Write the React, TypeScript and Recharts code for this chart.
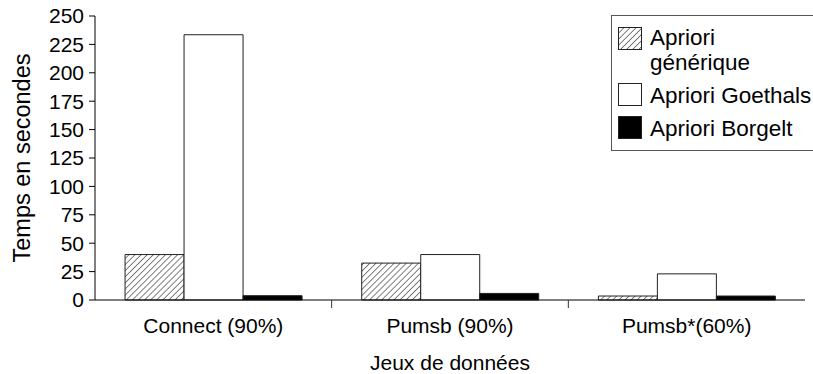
import { Bar, BarChart, XAxis, YAxis } from "recharts"

const categories = ["Connect (90%)", "Pumsb (90%)", "Pumsb*(60%)"]
const aprioriGenerique = [40, 32.5, 3.5]
const aprioriGoethals = [233.5, 40, 23]
const aprioriBorgelt = [3.8, 5.8, 3.5]
const yTicks = [0, 25, 50, 75, 100, 125, 150, 175, 200, 225, 250]
const legendNames = ["Apriori générique", "Apriori Goethals", "Apriori Borgelt"]

const data = categories.map((name, i) => ({
  name,
  generique: aprioriGenerique[i],
  goethals: aprioriGoethals[i],
  borgelt: aprioriBorgelt[i],
}))

const FONT = "'Liberation Sans', Arial, sans-serif"
const TICK_SIZE = 6
const TICK_MARGIN = 12

// category label, plus a small tick at the right edge of each band (except the last)
function CategoryTick(props: any) {
  const { x, y, payload, index } = props
  const axisY = y - TICK_SIZE - TICK_MARGIN
  const edge = x + (payload.offset || 0)
  return (
    <g>
      <text x={x} y={y} dy="0.71em" textAnchor="middle" fill="#000" fontSize={21} fontFamily={FONT}>
        {payload.value}
      </text>
      {index < categories.length - 1 && (
        <line x1={edge} x2={edge} y1={axisY} y2={axisY + 8} stroke="#333" />
      )}
    </g>
  )
}

function Swatch({ kind }: { kind: string }) {
  return (
    <svg width={24} height={23} style={{ display: "block", flex: "none" }}>
      <defs>
        <pattern id="hatchLegend" width={4.3} height={4.3} patternUnits="userSpaceOnUse" patternTransform="rotate(45)">
          <line x1={0} y1={0} x2={0} y2={4.3} stroke="#000" strokeWidth={1} />
        </pattern>
      </defs>
      <rect
        x={0.5}
        y={0.5}
        width={23}
        height={22}
        fill={kind === "hatch" ? "url(#hatchLegend)" : kind === "black" ? "#000" : "#fff"}
        stroke="#222"
      />
    </svg>
  )
}

function ChartLegend() {
  const row = { display: "flex", alignItems: "flex-start", gap: 8 } as const
  return (
    <div
      style={{
        position: "absolute",
        left: 611,
        top: 15,
        border: "1px solid #555",
        background: "#fff",
        width: 215,
        height: 136,
        boxSizing: "border-box",
        padding: "9px 0 0 6px",
        fontFamily: FONT,
        fontSize: 22.5,
        lineHeight: "25px",
        color: "#000",
      }}
    >
      <div style={row}>
        <div style={{ marginTop: 2 }}><Swatch kind="hatch" /></div>
        <div style={{ width: 120 }}>{legendNames[0]}</div>
      </div>
      <div style={{ ...row, marginTop: 8 }}>
        <div><Swatch kind="white" /></div>
        <div style={{ whiteSpace: "nowrap" }}>{legendNames[1]}</div>
      </div>
      <div style={{ ...row, marginTop: 8 }}>
        <div><Swatch kind="black" /></div>
        <div style={{ whiteSpace: "nowrap" }}>{legendNames[2]}</div>
      </div>
    </div>
  )
}

export default function App() {
  return (
    <div style={{ position: "absolute", left: 0, top: 0, width: 813, height: 374, overflow: "hidden", background: "#fff" }}>
      <BarChart
        width={813}
        height={374}
        data={data}
        margin={{ top: 16, right: 8, bottom: 0, left: 0 }}
        barCategoryGap="12.7%"
        barGap={0}
      >
        <defs>
          <pattern id="hatch" width={4.3} height={4.3} patternUnits="userSpaceOnUse" patternTransform="rotate(45)">
            <line x1={0} y1={0} x2={0} y2={4.3} stroke="#000" strokeWidth={1} />
          </pattern>
        </defs>
        <XAxis
          dataKey="name"
          height={74}
          tickLine={false}
          tickSize={TICK_SIZE}
          tickMargin={TICK_MARGIN}
          axisLine={{ stroke: "#000" }}
          tick={<CategoryTick />}
          interval={0}
          label={{ value: "Jeux de données", position: "insideBottom", offset: 4, fill: "#000", fontSize: 21, fontFamily: FONT }}
        />
        <YAxis
          domain={[0, 250]}
          ticks={yTicks}
          interval={0}
          width={95}
          axisLine={{ stroke: "#000" }}
          tickLine={{ stroke: "#000" }}
          tickSize={6}
          tickMargin={5}
          tick={{ fill: "#000", fontSize: 21, fontFamily: FONT }}
          label={{ value: "Temps en secondes", angle: -90, position: "insideLeft", offset: 22, fill: "#000", fontSize: 23.5, fontFamily: FONT, style: { textAnchor: "middle" } }}
        />
        <Bar dataKey="generique" name={legendNames[0]} fill="url(#hatch)" stroke="#222" strokeWidth={1} isAnimationActive={false} />
        <Bar dataKey="goethals" name={legendNames[1]} fill="#fff" stroke="#222" strokeWidth={1} isAnimationActive={false} />
        <Bar dataKey="borgelt" name={legendNames[2]} fill="#000" stroke="#222" strokeWidth={1} isAnimationActive={false} />
      </BarChart>
      <ChartLegend />
    </div>
  )
}
